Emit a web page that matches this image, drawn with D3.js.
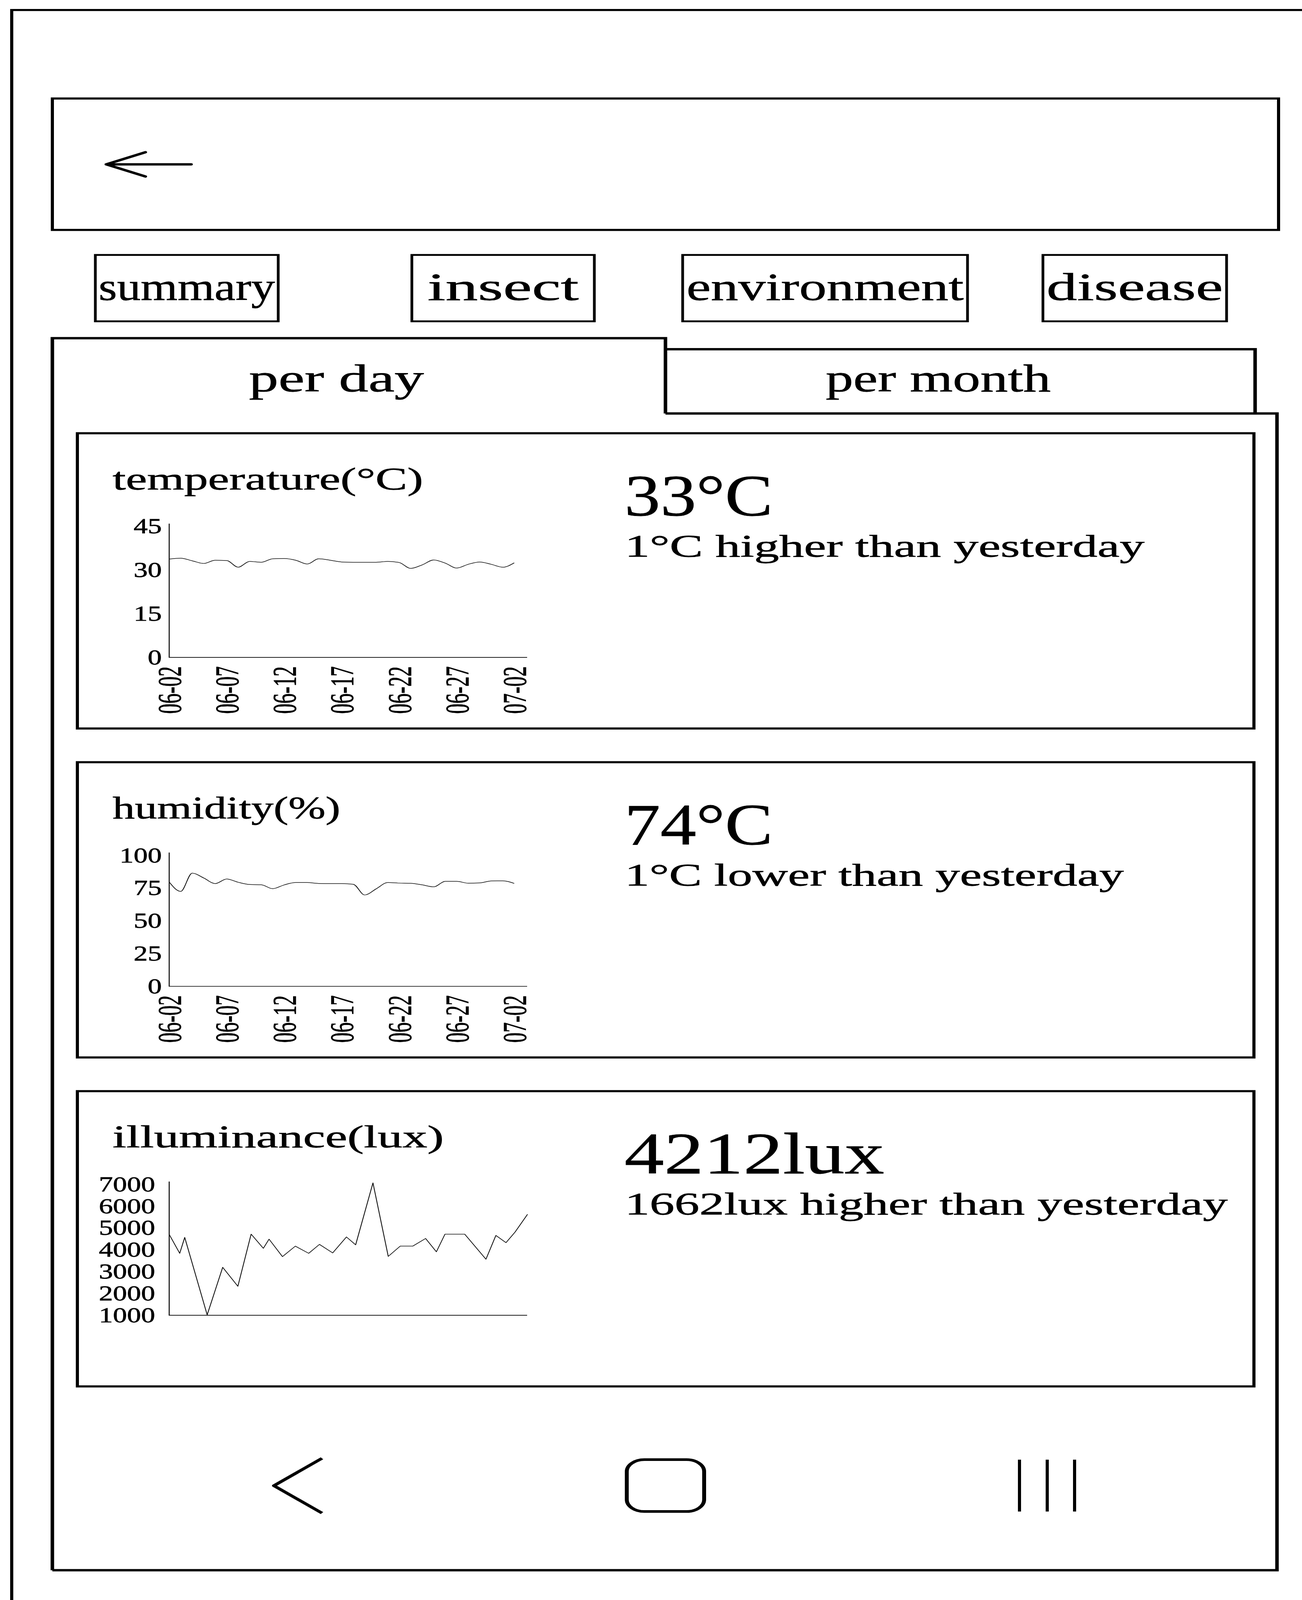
<!DOCTYPE html>
<html>
<head>
<meta charset="utf-8">
<script src="https://d3js.org/d3.v7.min.js"></script>
<style>
  html, body { margin: 0; padding: 0; background: #fff; overflow: hidden; }
  svg text { font-family: "Liberation Serif", "DejaVu Serif", serif; fill: #000; stroke: #000; stroke-width: 1.2px; }
</style>
</head>
<body>
<div id="d3render"></div>
<script>
// ---- data ----
const menuItems = ['summary', 'insect', 'environment', 'disease'];
const periodTabs = ['per day', 'per month'];

const dates = ['06-02', '06-03', '06-04', '06-05', '06-06', '06-07', '06-08', '06-09', '06-10', '06-11',
  '06-12', '06-13', '06-14', '06-15', '06-16', '06-17', '06-18', '06-19', '06-20', '06-21',
  '06-22', '06-23', '06-24', '06-25', '06-26', '06-27', '06-28', '06-29', '06-30', '07-01', '07-02'];

const tempTicks = [0, 15, 30, 45];
const temperature = [33.8, 34.1, 33.2, 32.3, 33.4, 33.3, 31.0, 33.0, 32.7, 33.9,
  34.0, 33.4, 32.1, 33.9, 33.4, 32.8, 32.7, 32.7, 32.7, 33.0,
  32.6, 30.6, 31.8, 33.5, 32.4, 30.7, 32.0, 32.8, 32.0, 31.0, 32.5];

const humidityTicks = [0, 25, 50, 75, 100];
const humidity = [79.7, 72.5, 86.5, 82.8, 78.5, 82.0, 79.5, 77.8, 77.6, 74.6,
  77.5, 79.3, 79.3, 78.6, 78.5, 78.5, 78.0, 69.8, 74.5, 79.3,
  78.9, 78.7, 77.5, 76.0, 80.2, 80.2, 78.8, 79.0, 80.5, 80.6, 78.6];

const illumTicks = [1000, 2000, 3000, 4000, 5000, 6000, 7000];
// day offset from 06-02 for each reading
const illumDays = [0, 0.88, 1.30, 3.18, 4.48, 5.75, 6.86, 7.88, 8.36, 9.48,
  10.56, 11.68, 12.58, 13.69, 14.84, 15.61, 17.06, 18.34, 19.34, 20.39,
  21.47, 22.37, 23.09, 24.74, 26.52, 27.35, 28.20, 28.95, 30];
const illuminance = [4710, 3840, 4570, 1020, 3200, 2330, 4720, 4070, 4490, 3690,
  4170, 3840, 4250, 3860, 4590, 4230, 7070, 3700, 4170, 4170,
  4520, 3910, 4720, 4720, 3570, 4660, 4330, 4810, 5630];

const cardTitles = ['temperature(°C)', 'humidity(%)', 'illuminance(lux)'];
const cardValues = ['33°C', '74°C', '4212lux'];
const cardNotes = ['1°C higher than yesterday', '1°C lower than yesterday', '1662lux higher than yesterday'];

// ---- layout ----
const W = 3332, H = 6075;
const serif = '"Liberation Serif", "DejaVu Serif", serif';

// drawing is laid out in a 3332x6075 box and stretched onto the window
const svg = d3.select('#d3render')
  .append('svg')
  .attr('viewBox', `0 0 ${W} ${H}`)
  .attr('preserveAspectRatio', 'none')
  .style('display', 'block')
  .style('width', '100vw')
  .style('height', '100vh')
  .style('background-color', 'white');

// fake monospace: force every string to n * advance
function monoText(parent, str, x, y, size, adv, anchor) {
  return parent.append('text')
    .attr('x', x)
    .attr('y', y)
    .attr('font-size', size)
    .attr('text-anchor', anchor || 'start')
    .attr('textLength', str.length * adv)
    .attr('lengthAdjust', 'spacingAndGlyphs')
    .text(str);
}

function stroke(sel, w) {
  return sel.attr('fill', 'none').attr('stroke', '#000').attr('stroke-width', w);
}

// phone frame
stroke(svg.append('path').attr('d', `M30,${H} V38 H${W}`), 8);

// header bar with back arrow
stroke(svg.append('rect').attr('x', 134).attr('y', 374).attr('width', 3138).attr('height', 499), 8);
stroke(svg.append('path').attr('d', 'M489,624 H272 M372,578 L272,624 L372,670'), 9)
  .attr('stroke-linecap', 'round').attr('stroke-linejoin', 'round');

// menu buttons
const btnX = [244, 1054, 1747, 2669];
const btnW = [468, 467, 729, 470];
menuItems.forEach((m, i) => {
  stroke(svg.append('rect').attr('x', btnX[i]).attr('y', 968).attr('width', btnW[i]).attr('height', 252), 7);
  monoText(svg, m, btnX[i] + btnW[i] / 2, 1139, 148, 64.5, 'middle');
});

// tabs + panel
stroke(svg.append('path').attr('d', 'M134,5962 V1284 H1703 V1570'), 9);
stroke(svg.append('path').attr('d', 'M1703,1326 H3212 V1570'), 9);
stroke(svg.append('path').attr('d', 'M1703,1570 H3268 V5962 H134'), 9);
const tabCx = [861, 2401];
periodTabs.forEach((t, i) => monoText(svg, t, tabCx[i], 1486, 148, 64, 'middle'));

// cards with charts
const cardTops = [1645, 2894, 4143];
const plotLeft = 433, plotBottom = 851, plotTop = 354, axisTop = 343, axisRight = 1349;

const charts = [
  { values: temperature, ticks: tempTicks, pad: 19, xLabels: true },
  { values: humidity, ticks: humidityTicks, pad: 19, xLabels: true },
  { values: illuminance, ticks: illumTicks, pad: 36, xLabels: false, days: illumDays }
];

charts.forEach((c, i) => {
  const g = svg.append('g').attr('transform', `translate(0,${cardTops[i]})`);
  stroke(g.append('rect').attr('x', 198).attr('y', 0).attr('width', 3011).attr('height', 1121), 8);

  monoText(g, cardTitles[i], 288, 213, 120, 53);
  monoText(g, cardValues[i], 1598, 313, 222, 95);
  monoText(g, cardNotes[i], 1599, 468, 120, 53.2);

  const y = d3.scaleLinear()
    .domain([c.ticks[0], c.ticks[c.ticks.length - 1]])
    .range([plotBottom, plotTop]);

  let xPos;
  if (c.days) {
    const xl = d3.scaleLinear().domain([0, 30]).range([plotLeft, 1350]);
    xPos = (d, j) => xl(c.days[j]);
  } else {
    const xp = d3.scalePoint().domain(dates).range([plotLeft, 1316]);
    xPos = (d, j) => xp(dates[j]);

    const xAxis = d3.axisBottom(xp)
      .tickValues(dates.filter((d, j) => j % 5 === 0))
      .tickSize(0);
    g.append('g')
      .attr('transform', `translate(0,${plotBottom})`)
      .call(xAxis)
      .attr('font-family', serif)
      .attr('font-size', 84)
      .call(a => a.select('.domain').remove())
      .selectAll('text')
      .attr('transform', 'rotate(-90)')
      .attr('text-anchor', 'end')
      .attr('x', -34)
      .attr('y', 0)
      .attr('dy', '0.35em')
      .attr('textLength', d => d.length * 36)
      .attr('lengthAdjust', 'spacingAndGlyphs');
  }

  const yAxis = d3.axisLeft(y)
    .tickValues(c.ticks)
    .tickFormat(d3.format('d'))
    .tickSize(0)
    .tickPadding(c.pad);
  g.append('g')
    .attr('transform', `translate(${plotLeft},0)`)
    .call(yAxis)
    .attr('font-family', serif)
    .attr('font-size', 80)
    .call(a => a.select('.domain').remove())
    .selectAll('text')
    .attr('textLength', d => String(d).length * 36)
    .attr('lengthAdjust', 'spacingAndGlyphs');

  // axis lines
  stroke(g.append('path').attr('d', `M${plotLeft},${axisTop} V${plotBottom} H${axisRight}`), 2.5);

  const line = d3.line()
    .x(xPos)
    .y(d => y(d))
    .curve(c.days ? d3.curveLinear : d3.curveMonotoneX);

  stroke(g.append('path').datum(c.values).attr('d', line), 2.2)
    .attr('stroke', '#111')
    .attr('stroke-linejoin', 'round');
});

// navigation bar
stroke(svg.append('path').attr('d', 'M824,5537 L701,5641 L824,5745'), 10)
  .attr('stroke-linejoin', 'round');
stroke(svg.append('rect').attr('x', 1604).attr('y', 5542).attr('width', 198).attr('height', 197).attr('rx', 45), 10);
[2609, 2680, 2750].forEach(x => {
  stroke(svg.append('line').attr('x1', x).attr('x2', x).attr('y1', 5542).attr('y2', 5739), 8);
});
</script>
</body>
</html>
